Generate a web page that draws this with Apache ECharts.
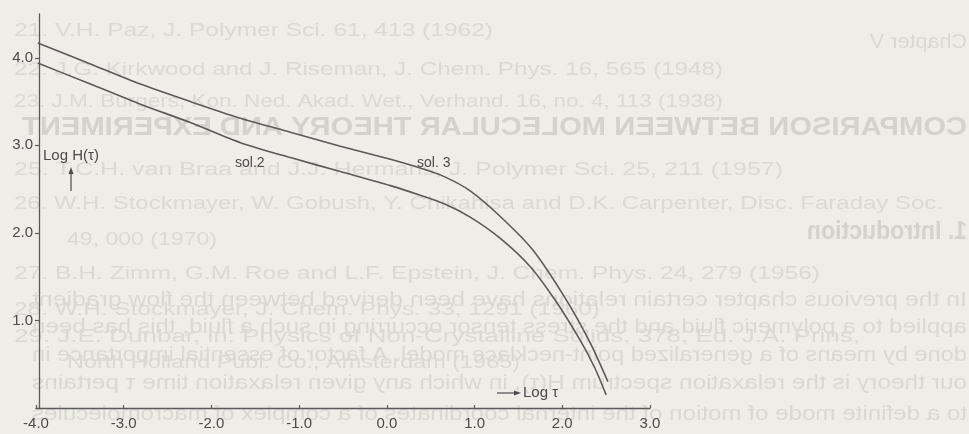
<!DOCTYPE html>
<html>
<head>
<meta charset="utf-8">
<script src="https://cdn.jsdelivr.net/npm/echarts@6/dist/echarts.min.js"></script>
<style>
  html, body { margin: 0; padding: 0; background: #eeede8; }
  #chart { width: 969px; height: 434px; }
</style>
</head>
<body>
<div id="chart"></div>
<script>
// Relaxation spectra log H(tau) against log tau for two solutions
const sol3LogTau = [-3.98, -3.38, -2.81, -2.24, -1.67, -1.10, -0.53, 0.04, 0.38, 0.66, 0.95, 1.29, 1.66, 2.03, 2.32, 2.52];
const sol3LogH   = [ 4.17,  3.93,  3.70,  3.50,  3.31,  3.15,  2.99, 2.84, 2.74, 2.64, 2.48, 2.19, 1.81, 1.26, 0.74, 0.30];

const sol2LogTau = [-3.98, -3.38, -2.81, -2.24, -1.67, -1.10, -0.53, 0.04, 0.38, 0.66, 0.95, 1.29, 1.63, 1.92, 2.20, 2.37, 2.50];
const sol2LogH   = [ 3.94,  3.70,  3.47,  3.26,  3.03,  2.86,  2.70, 2.54, 2.43, 2.33, 2.18, 1.94, 1.62, 1.23, 0.78, 0.46, 0.15];

const xTickValues = [-4, -3, -2, -1, 0, 1, 2, 3];
const yTickValues = [1, 2, 3, 4];

const pairs = (xs, ys) => xs.map((x, i) => [x, ys[i]]);

const INK = '#4b4b4b';
const LINE = '#5a5a5a';
const FONT = '"Liberation Sans", Arial, sans-serif';

// Faint print showing through the paper from the neighbouring pages
const pageBack = [
  { t: '21. V.H. Paz, J. Polymer Sci. 61, 413 (1962)', x0: 14, x1: 493, y: 31 },
  { t: '22. J.G. Kirkwood and J. Riseman, J. Chem. Phys. 16, 565 (1948)', x0: 14, x1: 723, y: 70 },
  { t: '23. J.M. Burgers, Kon. Ned. Akad. Wet., Verhand. 16, no. 4, 113 (1938)', x0: 14, x1: 723, y: 102 },
  { t: '25. T.C.H. van Braa and J.J. Hermans, J. Polymer Sci. 25, 211 (1957)', x0: 14, x1: 783, y: 170 },
  { t: '26. W.H. Stockmayer, W. Gobush, Y. Chikahisa and D.K. Carpenter, Disc. Faraday Soc.', x0: 14, x1: 943, y: 204 },
  { t: '49, 000 (1970)', x0: 67, x1: 217, y: 240 },
  { t: '27. B.H. Zimm, G.M. Roe and L.F. Epstein, J. Chem. Phys. 24, 279 (1956)', x0: 14, x1: 820, y: 274 },
  { t: '28. W.H. Stockmayer, J. Chem. Phys. 33, 1291 (1960)', x0: 14, x1: 600, y: 310 },
  { t: '29. J.E. Dunbar, in: Physics of Non-Crystalline Solids, 378, Ed. J.A. Prins,', x0: 14, x1: 860, y: 337 },
  { t: 'North Holland Publ. Co., Amsterdam (1965)', x0: 67, x1: 520, y: 363 }
];
const mirrored = [
  { t: 'Chapter V', w: 97, y: 42, bold: false },
  { t: 'COMPARISON BETWEEN MOLECULAR THEORY AND EXPERIMENT', w: 945, y: 128, bold: true },
  { t: '1. Introduction', w: 160, y: 232, bold: true },
  { t: 'In the previous chapter certain relations have been derived between the flow gradient', w: 935, y: 300, bold: false },
  { t: 'applied to a polymeric fluid and the stress tensor occurring in such a fluid, this has been', w: 935, y: 327, bold: false },
  { t: 'done by means of a generalized point-necklace model. A factor of essential importance in', w: 935, y: 355, bold: false },
  { t: 'our theory is the relaxation spectrum H(τ), in which any given relaxation time τ pertains', w: 935, y: 383, bold: false },
  { t: 'to a definite mode of motion of the internal coordinates of a complex of macromolecules', w: 935, y: 414, bold: false }
];

const measureCtx = document.createElement('canvas').getContext('2d');
function fitScale(text, font, target) {
  measureCtx.font = font;
  return target / measureCtx.measureText(text).width;
}

const backdrop = [];
pageBack.forEach(r => {
  const font = '18px ' + FONT;
  backdrop.push({
    type: 'text', silent: true, z: -5,
    x: r.x0, y: r.y, scaleX: fitScale(r.t, font, r.x1 - r.x0),
    style: { text: r.t, font: font, fill: '#dad9d4', textVerticalAlign: 'middle' }
  });
});
mirrored.forEach(r => {
  const font = (r.bold ? 'bold 25px ' : '20px ') + FONT;
  backdrop.push({
    type: 'text', silent: true, z: -5,
    x: 967, y: r.y, scaleX: -fitScale(r.t, font, r.w),
    style: { text: r.t, font: font, fill: r.bold ? '#d3d2cd' : '#d9d8d3', textVerticalAlign: 'middle' }
  });
});

// Annotations drawn on the plot
const notes = [
  { type: 'text', z: 10, x: 235, y: 163, style: { text: 'sol.2', font: '14px ' + FONT, fill: INK, textVerticalAlign: 'middle' } },
  { type: 'text', z: 10, x: 417, y: 163, style: { text: 'sol. 3', font: '14px ' + FONT, fill: INK, textVerticalAlign: 'middle' } },
  { type: 'text', z: 10, x: 43, y: 156, style: { text: 'Log H(τ)', font: '15px ' + FONT, fill: INK, textVerticalAlign: 'middle' } },
  { type: 'line', z: 10, shape: { x1: 71, y1: 191, x2: 71, y2: 172 }, style: { stroke: INK, lineWidth: 1.2 } },
  { type: 'polygon', z: 10, shape: { points: [[71, 167], [68.5, 174], [73.5, 174]] }, style: { fill: INK } },
  { type: 'line', z: 10, shape: { x1: 497, y1: 393, x2: 515, y2: 393 }, style: { stroke: INK, lineWidth: 1.2 } },
  { type: 'polygon', z: 10, shape: { points: [[521, 393], [514, 390.5], [514, 395.5]] }, style: { fill: INK } },
  { type: 'text', z: 10, x: 523, y: 393, style: { text: 'Log τ', font: '15px ' + FONT, fill: INK, textVerticalAlign: 'middle' } }
];

const chart = echarts.init(document.getElementById('chart'), null, { renderer: 'canvas' });
chart.setOption({
  backgroundColor: '#eeede8',
  animation: false,
  grid: { left: 36, right: 319, top: 14, bottom: 26 },
  xAxis: {
    type: 'value', min: -4, max: 3, interval: 1,
    axisLine: { onZero: false, lineStyle: { color: LINE, width: 1.3 } },
    axisTick: { inside: true, length: 3, customValues: xTickValues, lineStyle: { color: LINE, width: 1.2 } },
    axisLabel: {
      customValues: xTickValues, formatter: v => v.toFixed(1),
      color: INK, fontSize: 15, fontFamily: FONT, margin: 8
    },
    splitLine: { show: false }
  },
  yAxis: {
    type: 'value', min: 0, max: 4.5, interval: 1, offset: -3,
    axisLine: { show: true, onZero: false, lineStyle: { color: LINE, width: 1.3 } },
    axisTick: { show: true, length: 4, customValues: yTickValues, lineStyle: { color: LINE, width: 1.2 } },
    axisLabel: {
      customValues: yTickValues, formatter: v => v.toFixed(1),
      color: INK, fontSize: 15, fontFamily: FONT, margin: 6
    },
    splitLine: { show: false }
  },
  series: [
    {
      name: 'sol. 3', type: 'line', data: pairs(sol3LogTau, sol3LogH),
      smooth: 0.25, showSymbol: false,
      lineStyle: { color: LINE, width: 1.6 }
    },
    {
      name: 'sol. 2', type: 'line', data: pairs(sol2LogTau, sol2LogH),
      smooth: 0.25, showSymbol: false,
      lineStyle: { color: LINE, width: 1.6 }
    }
  ],
  graphic: backdrop.concat(notes)
});
</script>
</body>
</html>
